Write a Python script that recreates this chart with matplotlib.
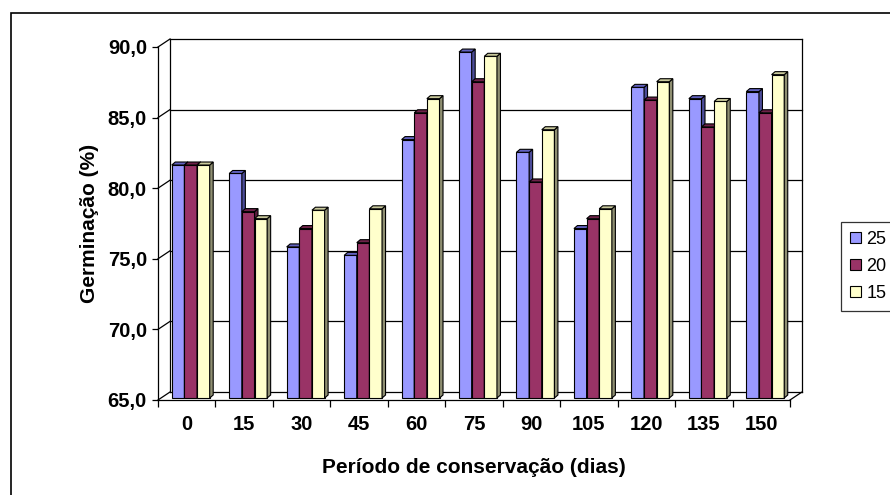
import matplotlib
matplotlib.use("Agg")
import matplotlib.pyplot as plt
import matplotlib.transforms as mtransforms
from matplotlib.patches import Polygon, Rectangle, Patch

plt.rcParams['font.family'] = ['Liberation Sans', 'DejaVu Sans']

# germination (%) per storage period, for the three temperatures
periods = ['0', '15', '30', '45', '60', '75', '90', '105', '120', '135', '150']
series_names = ['25', '20', '15']
germ_25 = [81.5, 80.9, 75.7, 75.1, 83.3, 89.5, 82.4, 77.0, 87.0, 86.2, 86.7]
germ_20 = [81.5, 78.2, 77.0, 76.0, 85.2, 87.4, 80.3, 77.7, 86.1, 84.2, 85.2]
germ_15 = [81.5, 77.7, 78.3, 78.4, 86.2, 89.2, 84.0, 78.4, 87.4, 86.0, 87.9]
yticks = [65, 70, 75, 80, 85, 90]

front_cols = ['#9999FF', '#993366', '#FFFFCC']
top_cols = ['#6262C0', '#6E2249', '#C9C99C']
side_cols = ['#4C4C99', '#5A1C3C', '#8F8F72']

W, H = 890, 495
fig = plt.figure(figsize=(W / 100, H / 100), dpi=100)
# front plane of the 3d chart
ax = fig.add_axes([158 / W, 1 - 400 / H, (790 - 158) / W, (400 - 47) / H])
ymin, ymax = 65, 90
n = len(periods)
ax.set_xlim(-0.5, n - 0.5)
ax.set_ylim(ymin, ymax)

pxx = (790 - 158) / n          # px per category
pxy = (400 - 47) / (ymax - ymin)  # px per unit

# back wall offset (data units)
wx, wy = 12 / pxx, 8 / pxy
x0, x1 = -0.5, n - 0.5
lk = dict(color='black', lw=0.9, clip_on=False, zorder=1)
for y in yticks:
    ax.plot([x0 + wx, x1 + wx], [y + wy, y + wy], **lk)
    ax.plot([x0, x0 + wx], [y, y + wy], **lk)
ax.plot([x0 + wx, x0 + wx], [ymin + wy, ymax + wy], **lk)
ax.plot([x1 + wx, x1 + wx], [ymin + wy, ymax + wy], **lk)
ax.plot([x1, x1 + wx], [ymin, ymin + wy], **lk)

# bars, pushed a bit into the depth
off = mtransforms.offset_copy(ax.transData, fig=fig, x=4, y=2, units='dots')
bw = 0.22
dx, dy = 3.5 / pxx, 3 / pxy
allvals = [germ_25, germ_20, germ_15]
for j in range(n):
    for i, vals in enumerate(allvals):
        v = vals[j]
        xl = j + (i - 1) * bw - bw / 2
        xr = xl + bw
        z = 3 + i * 0.1
        ax.add_patch(Rectangle((xl, ymin), bw, v - ymin, facecolor=front_cols[i],
                               edgecolor='black', lw=0.8, transform=off, zorder=z,
                               clip_on=False))
        ax.add_patch(Polygon([(xr, ymin), (xr, v), (xr + dx, v + dy), (xr + dx, ymin + dy)],
                             closed=True, facecolor=side_cols[i], edgecolor='black',
                             lw=0.8, transform=off, zorder=z, clip_on=False))
        ax.add_patch(Polygon([(xl, v), (xr, v), (xr + dx, v + dy), (xl + dx, v + dy)],
                             closed=True, facecolor=top_cols[i], edgecolor='black',
                             lw=0.8, transform=off, zorder=z, clip_on=False))

for s in ['top', 'right']:
    ax.spines[s].set_visible(False)
for s in ['left', 'bottom']:
    ax.spines[s].set_linewidth(0.9)
    ax.spines[s].set_zorder(5)

ax.set_yticks(yticks)
ax.set_yticklabels([f"{v:.1f}".replace('.', ',') for v in yticks],
                   fontsize=14.5, fontweight='bold')
ax.tick_params(axis='y', direction='out', length=4, width=0.9, pad=4)
ax.set_xticks(range(n))
ax.set_xticklabels(periods, fontsize=14.5, fontweight='bold')
ax.set_xticks([k - 0.5 for k in range(n + 1)], minor=True)
ax.tick_params(axis='x', which='major', length=0, pad=11)
ax.tick_params(axis='x', which='minor', direction='out', length=5, width=0.9)

ax.set_xlabel('Período de conservação (dias)', fontsize=15, fontweight='bold', labelpad=17)
ax.set_ylabel('Germinação (%)', fontsize=15, fontweight='bold', labelpad=6)

handles = [Patch(facecolor=c, edgecolor='black', lw=0.8) for c in front_cols]
leg = fig.legend(handles, series_names, loc='upper left',
                 bbox_to_anchor=(841 / W, 1 - 222 / H), fontsize=13,
                 frameon=True, fancybox=False, handlelength=0.6, handleheight=0.6,
                 handletextpad=0.3, labelspacing=0.55, borderpad=0.5,
                 borderaxespad=0)
leg.get_frame().set_edgecolor('black')
leg.get_frame().set_linewidth(0.9)

# chart area border (only top and left edges fall inside the picture)
fig.add_artist(Rectangle((11 / W, -0.1), 1.2, 1.1 - 13 / H, transform=fig.transFigure,
                         fill=False, edgecolor='black', lw=1.2))

fig.savefig('out.png', dpi=100)
